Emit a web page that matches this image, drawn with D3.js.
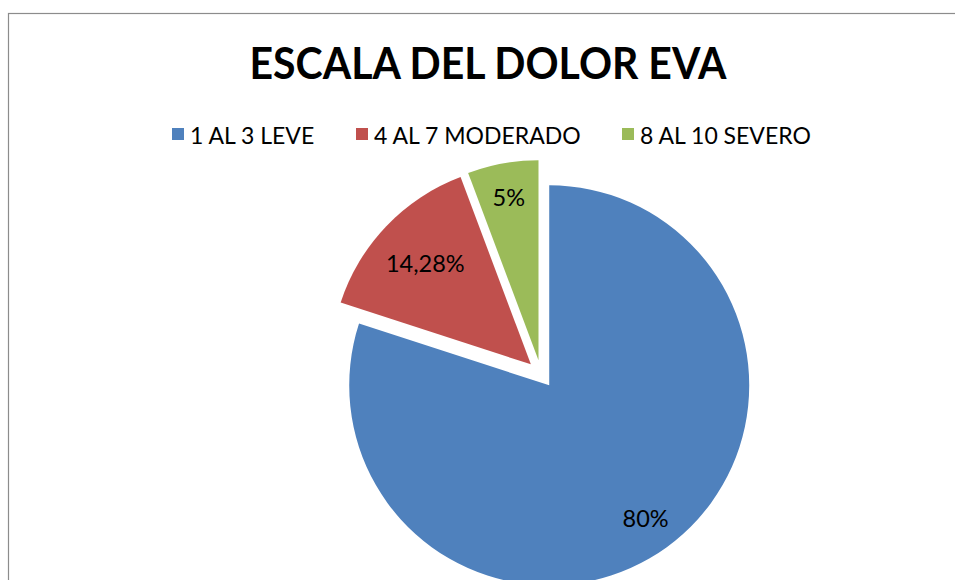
<!DOCTYPE html>
<html lang="es">
<head>
  <meta charset="UTF-8">
  <script src="https://d3js.org/d3.v7.min.js"></script>
  <title>Escala del dolor EVA</title>
  <style>
    body {
      margin: 0;
      background: #fff;
      overflow: hidden;
    }
    svg text {
      font-family: Lato, "Open Sans", sans-serif;
      fill: #000;
    }
  </style>
</head>
<body>
<script>
  // Chart data
  const categories = ["1 AL 3 LEVE", "4 AL 7 MODERADO", "8 AL 10 SEVERO"];
  const values = [80, 14.28, 5.72];
  const valueLabels = ["80%", "14,28%", "5%"];
  const title = "ESCALA DEL DOLOR EVA";

  const width = 955;
  const height = 580;

  const svg = d3.select("body").append("svg")
    .attr("width", width)
    .attr("height", height);

  // Chart frame (only top and left edges are visible)
  svg.append("rect")
    .attr("x", 8.5)
    .attr("y", 13.5)
    .attr("width", 1000)
    .attr("height", 1000)
    .attr("fill", "none")
    .attr("stroke", "#8c8c8c")
    .attr("stroke-width", 1.2);

  // Title
  svg.append("text")
    .attr("x", 488)
    .attr("y", 79)
    .attr("text-anchor", "middle")
    .attr("font-size", 43)
    .attr("font-weight", "bold")
    .attr("textLength", 477)
    .attr("lengthAdjust", "spacingAndGlyphs")
    .text(title);

  const color = d3.scaleOrdinal()
    .domain(categories)
    .range(["#4F81BD", "#C0504D", "#9BBB59"]);

  // Legend
  const legendX = [172, 356, 622];
  const legend = svg.append("g")
    .selectAll("g")
    .data(categories)
    .enter().append("g")
    .attr("transform", (d, i) => `translate(${legendX[i]},128)`);

  legend.append("rect")
    .attr("width", 12)
    .attr("height", 12)
    .attr("fill", d => color(d));

  legend.append("text")
    .attr("x", 18)
    .attr("y", 16)
    .attr("font-size", 23)
    .text(d => d);

  // Pie
  const cx = 541, cy = 374, radius = 200, explode = 14;
  const pie = d3.pie().sort(null).value(d => d);
  const arcs = pie(values);
  const arc = d3.arc().innerRadius(0).outerRadius(radius);

  const offset = (d, dist) => {
    const a = (d.startAngle + d.endAngle) / 2;
    return [Math.sin(a) * dist, -Math.cos(a) * dist];
  };

  const slices = svg.append("g")
    .attr("transform", `translate(${cx},${cy})`)
    .selectAll("g")
    .data(arcs)
    .enter().append("g")
    .attr("transform", d => {
      const [dx, dy] = offset(d, explode);
      return `translate(${dx},${dy})`;
    });

  slices.append("path")
    .attr("d", arc)
    .attr("fill", (d, i) => color(categories[i]));

  // label distance from slice tip
  const labelDist = [164, 146, 166];
  slices.append("text")
    .attr("x", (d, i) => offset(d, labelDist[i])[0])
    .attr("y", (d, i) => offset(d, labelDist[i])[1])
    .attr("text-anchor", "middle")
    .attr("dominant-baseline", "central")
    .attr("font-size", 23.5)
    .text((d, i) => valueLabels[i]);
</script>
</body>
</html>
